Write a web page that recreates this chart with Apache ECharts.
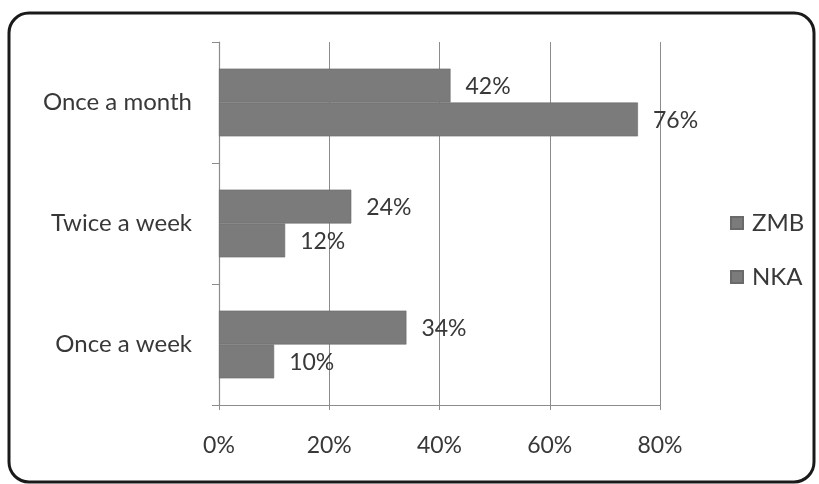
<!DOCTYPE html>
<html>
<head>
<meta charset="utf-8">
<script src="https://cdn.jsdelivr.net/npm/echarts@6/dist/echarts.min.js"></script>
<style>
  html, body { margin: 0; padding: 0; background: #fff; }
  #chart { width: 819px; height: 484px; }
</style>
</head>
<body>
<div id="chart"></div>
<script>
// Frequency categories, listed bottom to top along the category axis
const categories = ['Once a week', 'Twice a week', 'Once a month'];
const seriesNames = ['ZMB', 'NKA'];
const zmbValues = [34, 24, 42];
const nkaValues = [10, 12, 76];
const xTicks = [0, 20, 40, 60, 80];

const textColor = '#383838';
const barColor = '#7b7b7b';
const axisColor = '#8c8c8c';
const font = 'Lato';

const chart = echarts.init(document.getElementById('chart'));

function barSeries(name, values) {
  return {
    name: name,
    type: 'bar',
    data: values,
    barGap: '0%',
    barCategoryGap: '44%',
    itemStyle: { color: barColor, borderColor: '#6a6a6a', borderWidth: 0.6 },
    label: {
      show: true,
      position: 'right',
      distance: 15,
      offset: [0, 1],
      formatter: '{c}%',
      color: textColor,
      fontFamily: font,
      fontSize: 23
    }
  };
}

chart.setOption({
  animation: false,
  backgroundColor: '#fff',
  textStyle: { fontFamily: font },
  // rounded frame around the whole chart
  graphic: [{
    type: 'rect',
    shape: { x: 9, y: 13, width: 805, height: 469, r: 20 },
    style: { fill: 'none', stroke: '#1a1a1a', lineWidth: 3 },
    z: 100
  }],
  grid: { left: 219, right: 159, top: 42, bottom: 79 },
  legend: {
    orient: 'vertical',
    left: 725,
    top: 206,
    itemWidth: 12,
    itemHeight: 12,
    itemGap: 30,
    data: seriesNames,
    icon: 'rect',
    textStyle: { color: textColor, fontFamily: font, fontSize: 24, padding: [0, 0, 0, 4] }
  },
  xAxis: {
    type: 'value',
    min: xTicks[0],
    max: xTicks[xTicks.length - 1],
    interval: xTicks[1] - xTicks[0],
    axisLine: { show: true, lineStyle: { color: axisColor, width: 1.2 } },
    axisTick: { show: true, length: 5, lineStyle: { color: axisColor } },
    splitLine: { show: true, lineStyle: { color: axisColor, width: 1 } },
    axisLabel: { formatter: '{value}%', color: textColor, fontFamily: font, fontSize: 23, margin: 29 }
  },
  yAxis: {
    type: 'category',
    data: categories,
    axisLine: { show: true, lineStyle: { color: axisColor, width: 1.2 } },
    axisTick: { show: true, length: 7, lineStyle: { color: axisColor } },
    axisLabel: { color: textColor, fontFamily: font, fontSize: 24, margin: 27 }
  },
  series: [barSeries('ZMB', zmbValues), barSeries('NKA', nkaValues)]
});
</script>
</body>
</html>
